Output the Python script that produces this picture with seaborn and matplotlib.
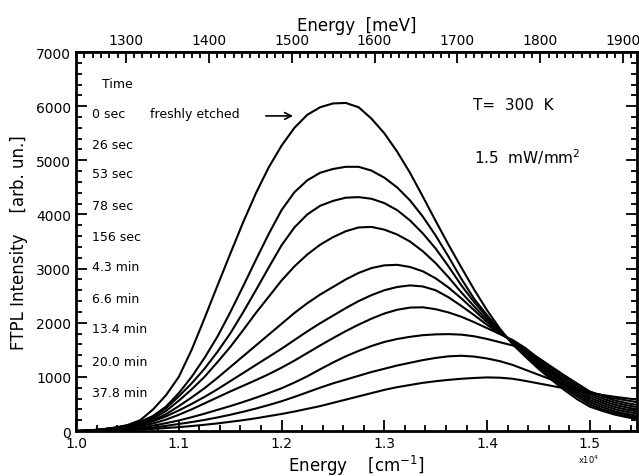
import numpy as np
import pandas as pd
import matplotlib
matplotlib.use("Agg")
import matplotlib.pyplot as plt
import seaborn as sns
from matplotlib.ticker import MultipleLocator, FormatStrFormatter

# energy grid in units of 1e4 cm^-1
energy = [1.0000, 1.0125, 1.0250, 1.0375, 1.0500, 1.0625, 1.0750, 1.0875, 1.1000, 1.1125,
          1.1250, 1.1375, 1.1500, 1.1625, 1.1750, 1.1875, 1.2000, 1.2125, 1.2250, 1.2375,
          1.2500, 1.2625, 1.2750, 1.2875, 1.3000, 1.3125, 1.3250, 1.3375, 1.3500, 1.3625,
          1.3750, 1.3875, 1.4000, 1.4125, 1.4250, 1.4375, 1.4500, 1.4625, 1.4750, 1.4875,
          1.5000, 1.5125, 1.5250, 1.5375, 1.5500]

times = ["0 sec", "26 sec", "53 sec", "78 sec", "156 sec",
         "4.3 min", "6.6 min", "13.4 min", "20.0 min", "37.8 min"]

# FTPL intensity, one list per etching time
pl_0s = [0, 10, 30, 60, 110, 200, 400, 660, 1000, 1500, 2080, 2680, 3270, 3850, 4390,
         4870, 5270, 5600, 5840, 5980, 6050, 6060, 5980, 5770, 5500, 5160, 4770, 4330, 3880, 3440,
         3020, 2610, 2230, 1890, 1600, 1370, 1150, 950, 760, 590, 450, 370, 300, 250, 210]
pl_26s = [0, 10, 30, 60, 100, 170, 280, 450, 700, 1000, 1350, 1740, 2190, 2670, 3160,
          3640, 4080, 4410, 4630, 4770, 4840, 4880, 4880, 4810, 4680, 4500, 4260, 3960, 3610, 3220,
          2810, 2440, 2140, 1860, 1620, 1400, 1180, 980, 800, 640, 490, 400, 330, 280, 240]
pl_53s = [0, 10, 30, 60, 100, 160, 260, 420, 640, 880, 1150, 1460, 1800, 2190, 2600,
          3020, 3430, 3760, 4000, 4160, 4250, 4310, 4320, 4290, 4210, 4080, 3890, 3650, 3370, 3040,
          2690, 2380, 2100, 1850, 1630, 1420, 1210, 1020, 840, 680, 530, 440, 360, 310, 270]
pl_78s = [0, 8, 25, 50, 90, 140, 230, 370, 560, 770, 1000, 1270, 1550, 1860, 2180,
          2480, 2780, 3040, 3260, 3440, 3580, 3690, 3760, 3770, 3720, 3630, 3500, 3320, 3100, 2840,
          2560, 2300, 2050, 1830, 1640, 1440, 1240, 1060, 880, 720, 570, 480, 400, 350, 310]
pl_156s = [0, 6, 20, 45, 80, 130, 200, 310, 460, 620, 790, 980, 1180, 1380, 1580,
           1780, 1980, 2180, 2360, 2520, 2660, 2800, 2920, 3010, 3060, 3070, 3030, 2950, 2820, 2650,
           2450, 2230, 2010, 1820, 1650, 1470, 1270, 1090, 920, 760, 610, 520, 440, 390, 350]
pl_4m3 = [0, 5, 18, 40, 70, 115, 180, 270, 380, 500, 630, 770, 920, 1070, 1220,
          1370, 1520, 1680, 1840, 1990, 2130, 2270, 2400, 2510, 2600, 2660, 2690, 2670, 2600, 2470,
          2310, 2140, 1960, 1800, 1660, 1500, 1300, 1120, 960, 800, 650, 560, 480, 430, 390]
pl_6m6 = [0, 5, 15, 30, 60, 95, 140, 210, 300, 400, 510, 620, 730, 835, 940,
          1050, 1170, 1300, 1440, 1580, 1715, 1845, 1965, 2075, 2170, 2240, 2280, 2285, 2250, 2190,
          2110, 2010, 1900, 1790, 1680, 1530, 1340, 1160, 1000, 840, 690, 600, 520, 470, 430]
pl_13m4 = [0, 3, 8, 20, 40, 65, 100, 145, 195, 255, 320, 390, 460, 535, 615,
           700, 790, 895, 1010, 1140, 1265, 1380, 1480, 1570, 1645, 1700, 1740, 1770, 1785, 1790,
           1780, 1750, 1700, 1640, 1580, 1490, 1350, 1190, 1030, 880, 730, 640, 560, 510, 470]
pl_20m0 = [0, 2, 6, 15, 28, 45, 65, 95, 130, 165, 205, 250, 300, 355, 415,
           480, 550, 630, 715, 800, 880, 950, 1020, 1090, 1150, 1210, 1260, 1310, 1350, 1380,
           1390, 1375, 1340, 1290, 1220, 1130, 1040, 950, 860, 790, 720, 660, 600, 560, 520]
pl_37m8 = [0, 2, 5, 10, 18, 28, 40, 55, 72, 92, 115, 140, 170, 200, 235,
           275, 315, 360, 410, 460, 520, 580, 640, 700, 760, 810, 850, 890, 920, 945,
           965, 980, 990, 985, 965, 925, 880, 835, 790, 745, 700, 665, 630, 600, 570]

spectra = [pl_0s, pl_26s, pl_53s, pl_78s, pl_156s, pl_4m3, pl_6m6, pl_13m4, pl_20m0, pl_37m8]

df = pd.concat([pd.DataFrame({"energy": energy, "intensity": s, "time": t})
                for t, s in zip(times, spectra)], ignore_index=True)

sns.set_theme(style="ticks")
plt.rcParams["font.family"] = ["DejaVu Sans"]
plt.rcParams["text.color"] = "black"
plt.rcParams["axes.labelcolor"] = "black"
plt.rcParams["xtick.color"] = "black"
plt.rcParams["ytick.color"] = "black"

fig = plt.figure(figsize=(6.39, 4.77), dpi=100)
ax = fig.add_axes([0.119, 0.0943, 0.878, 0.7945])

sns.lineplot(data=df, x="energy", y="intensity", units="time", estimator=None,
             color="black", lw=1.5, ax=ax, legend=False)

ax.set_xlim(1.0, 1.546)
ax.set_ylim(0, 7000)
ax.xaxis.set_major_locator(MultipleLocator(0.1))
ax.xaxis.set_minor_locator(MultipleLocator(0.02))
ax.xaxis.set_major_formatter(FormatStrFormatter("%.1f"))
ax.yaxis.set_major_locator(MultipleLocator(1000))
ax.yaxis.set_minor_locator(MultipleLocator(200))
ax.tick_params(which="both", direction="in", right=True, top=False, labelsize=10, width=1.3)
ax.tick_params(which="major", length=8)
ax.tick_params(which="minor", length=4)
for sp in ax.spines.values():
    sp.set_linewidth(2)
    sp.set_color("black")

ax.set_xlabel("Energy    [cm$^{-1}$]", fontsize=12, labelpad=2)
ax.set_ylabel("FTPL Intensity    [arb. un.]", fontsize=12, labelpad=6)

# top axis in meV
top = ax.secondary_xaxis("top", functions=(lambda x: x * 1239.84, lambda m: m / 1239.84))
top.set_xticks([1300, 1400, 1500, 1600, 1700, 1800, 1900])
top.xaxis.set_minor_locator(MultipleLocator(10))
top.tick_params(which="both", direction="in", labelsize=10, width=1.3)
top.tick_params(which="major", length=8)
top.tick_params(which="minor", length=4)
top.set_xlabel("Energy  [meV]", fontsize=12, labelpad=2)

ax.text(1.499, -520, "x10$^4$", fontsize=6, ha="center", va="center")

# labels of the etching times
ax.text(1.025, 6410, "Time", fontsize=9, va="center")
label_y = [5860, 5300, 4750, 4160, 3600, 3030, 2440, 1890, 1290, 720]
for t, yv in zip(times, label_y):
    ax.text(1.016, yv, t, fontsize=9, va="center")
ax.text(1.072, 5860, "freshly etched", fontsize=9, va="center")
ax.annotate("", xy=(1.214, 5820), xytext=(1.182, 5820),
            arrowprops=dict(arrowstyle="->", color="black", lw=1.2))

ax.text(1.386, 6040, "T=  300  K", fontsize=11, va="center")
ax.text(1.387, 5080, "1.5  mW/mm$^2$", fontsize=11, va="center")

plt.savefig("out.png", dpi=100)
